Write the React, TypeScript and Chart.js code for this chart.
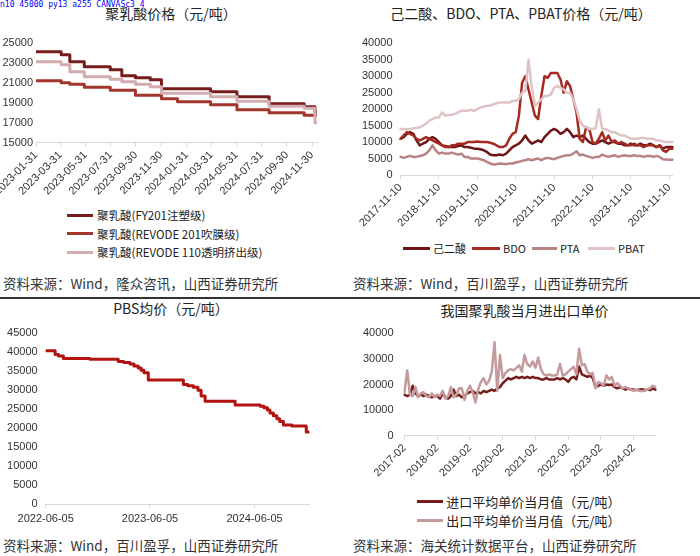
import React, { useEffect, useRef, useState } from "react";
import { Chart, registerables } from "chart.js";
Chart.register(...registerables);

// ---------- helpers ----------
const DAY = 86400000;
const toDay = (s: string) => {
  const [y, m, d] = s.split("-").map(Number);
  return Date.UTC(y, m - 1, d) / DAY;
};
const pad2 = (n: number) => (n < 10 ? "0" + n : "" + n);

// ---------- Panel 1: 聚乳酸价格 ----------
const p1Title = "聚乳酸价格（元/吨）";
const p1Names = ["聚乳酸(FY201注塑级)", "聚乳酸(REVODE 201吹膜级)", "聚乳酸(REVODE 110透明挤出级)"];
const p1Dates = ["2023-01-31", "2023-04-02", "2023-04-23", "2023-05-28", "2023-07-30", "2023-08-27", "2023-09-29", "2023-11-04", "2023-12-01", "2024-01-09", "2024-03-29", "2024-06-01", "2024-08-18", "2024-11-11", "2024-12-07", "2024-12-12"];
const p1FY201 = [24100, 23800, 23100, 22600, 22300, 21700, 21500, 21300, 20400, 20400, 20100, 19600, 18900, 18600, 18100, 18100];
const p1Revode201 = [21200, 21000, 20850, 20550, 20250, 20250, 19750, 19750, 19400, 19100, 18800, 18300, 18000, 17750, 17750, 17750];
const p1Revode110 = [23100, 22800, 22100, 21600, 21350, 21100, 20850, 20600, 19950, 19950, 19600, 19150, 18650, 18450, 17000, 17000];
const p1TickDates = ["2023-01-31", "2023-03-31", "2023-05-31", "2023-07-31", "2023-09-30", "2023-11-30", "2024-01-31", "2024-03-31", "2024-05-31", "2024-07-31", "2024-09-30", "2024-11-30"];
const p1YTicks = [15000, 17000, 19000, 21000, 23000, 25000];
const p1Source = "资料来源：Wind，隆众咨讯，山西证券研究所";

// ---------- Panel 2: 己二酸、BDO、PTA、PBAT ----------
const p2Title = "己二酸、BDO、PTA、PBAT价格（元/吨）";
const p2Names = ["己二酸", "BDO", "PTA", "PBAT"];
const p2Start = { year: 2017, month: 11 };
const p2Adipic = [11000, 11500, 12500, 13000, 12500, 10500, 9000, 9500, 10000, 11000, 11500, 11000, 10000, 9000, 8800, 8500, 8500, 8500, 8800, 9000, 8500, 8500, 8300, 8000, 8000, 7800, 7500, 7000, 6200, 6000, 6000, 6200, 6000, 6500, 7500, 8500, 9000, 9500, 10500, 12000, 10500, 9500, 10000, 10500, 10000, 11500, 12500, 13500, 14000, 13500, 12500, 13000, 14000, 13000, 11500, 12000, 11500, 12000, 11000, 10000, 9500, 9500, 10000, 10500, 10000, 9500, 10000, 10000, 9500, 9500, 9000, 9000, 9500, 9000, 9000, 9500, 9000, 9000, 9500, 9000, 8500, 9000, 8000, 8500, 8500, 8500];
const p2BDO = [11000, 12000, 13000, 12500, 12000, 11000, 10500, 11000, 11500, 11000, 10500, 10000, 9500, 9000, 8500, 8500, 9000, 9000, 9500, 9500, 9500, 10000, 10000, 10000, 10200, 10000, 10000, 10000, 9800, 9500, 9000, 8500, 8500, 9000, 11000, 12500, 13000, 18000, 28000, 30000, 26000, 22000, 18000, 17000, 24000, 30000, 29500, 31000, 31000, 31000, 29000, 25000, 28500, 27000, 23000, 19000, 11000, 10000, 14500, 14000, 10000, 9500, 11000, 13000, 10500, 12000, 10000, 10500, 9500, 10000, 9500, 9000, 9000, 9500, 9000, 9000, 8500, 9000, 9000, 9000, 8500, 9000, 7500, 7000, 8000, 8000];
const p2PTA = [5500, 5200, 5500, 5800, 5500, 5500, 5800, 6000, 6500, 7500, 9000, 7500, 6500, 6800, 6500, 6500, 6800, 6500, 6200, 6500, 5500, 5500, 5000, 5000, 5000, 4800, 4500, 4000, 3500, 3200, 3300, 3500, 3400, 3300, 3500, 3500, 3800, 4000, 4300, 4500, 4800, 4500, 4800, 5000, 4500, 5000, 5200, 5000, 4800, 5200, 5500, 5800, 6000, 6000, 6500, 7200, 6000, 6200, 5800, 5500, 5200, 5500, 5500, 6200, 5800, 5500, 5800, 6000, 5500, 5800, 6000, 5800, 5800, 6000, 5800, 5800, 5500, 5800, 5800, 5500, 5800, 5500, 4800, 4700, 4600, 4600];
const p2PBAT = [14000, 14000, 13800, 14000, 14200, 14300, 14500, 15000, 15500, 16500, 17000, 17500, 17500, 19000, 18000, 18200, 18300, 18500, 19000, 19500, 19500, 19500, 19800, 19500, 20000, 20500, 20800, 21000, 21000, 21500, 21800, 22000, 22000, 22000, 22000, 22500, 22500, 23000, 25000, 25500, 35000, 27000, 21000, 22000, 23000, 24000, 24000, 24500, 26500, 27000, 26500, 26000, 25000, 25000, 23000, 20000, 16500, 15000, 14500, 14000, 14000, 14200, 20000, 14000, 14000, 13500, 13000, 13000, 12500, 12000, 12000, 11500, 11000, 11000, 11000, 11200, 11200, 11000, 11000, 11000, 10500, 10500, 10200, 10000, 10000, 10000];
const p2Labels = p2PBAT.map((_, i) => {
  const k = p2Start.month - 1 + i;
  return `${p2Start.year + Math.floor(k / 12)}-${pad2((k % 12) + 1)}-10`;
});
const p2YTicks = [0, 5000, 10000, 15000, 20000, 25000, 30000, 35000, 40000];
const p2Source = "资料来源：Wind，百川盈孚，山西证券研究所";

// ---------- Panel 3: PBS均价 ----------
const p3Title = "PBS均价（元/吨）";
const p3Dates = ["2022-06-05", "2022-07-08", "2022-07-20", "2022-08-06", "2022-11-07", "2023-02-14", "2023-03-05", "2023-03-27", "2023-04-10", "2023-04-25", "2023-05-05", "2023-05-15", "2023-05-30", "2023-09-30", "2023-10-15", "2023-11-04", "2023-11-20", "2023-12-01", "2023-12-15", "2024-03-29", "2024-06-25", "2024-07-08", "2024-07-20", "2024-07-29", "2024-08-10", "2024-08-22", "2024-09-01", "2024-09-14", "2024-10-14", "2024-12-03", "2024-12-14"];
const p3PBS = [40400, 39400, 39000, 38400, 38200, 37600, 37300, 36900, 36400, 35900, 35300, 34600, 32700, 31500, 31200, 30800, 30000, 28500, 27100, 26100, 25800, 25400, 24800, 24000, 23300, 22500, 21800, 20900, 20600, 19000, 19000];
const p3TickDates = ["2022-06-05", "2023-06-05", "2024-06-05"];
const p3YTicks = [0, 5000, 10000, 15000, 20000, 25000, 30000, 35000, 40000, 45000];
const p3Source = "资料来源：Wind，百川盈孚，山西证券研究所";

// ---------- Panel 4: 进出口单价 ----------
const p4Title = "我国聚乳酸当月进出口单价";
const p4Names = ["进口平均单价当月值（元/吨）", "出口平均单价当月值（元/吨）"];
const p4Start = { year: 2017, month: 2 };
const p4Import = [16000, 15500, 16000, 19500, 16500, 15500, 16000, 15500, 16000, 15500, 15000, 15500, 15500, 14500, 16500, 15000, 14500, 15500, 18000, 15500, 16000, 15000, 15500, 16500, 17000, 17500, 16500, 17000, 16500, 17500, 17000, 17500, 18000, 17500, 18500, 19000, 20500, 21500, 22500, 22000, 22500, 23000, 22500, 23000, 22500, 23000, 22500, 23000, 22500, 22500, 22000, 22000, 22500, 22000, 22000, 22000, 22500, 22000, 22500, 22000, 21000, 22500, 23000, 22000, 27000, 24000, 23500, 23000, 23500, 22500, 19000, 19500, 20000, 19500, 20000, 19800, 20000, 19000, 18500, 19000, 18500, 18000, 18500, 18000, 18000, 17800, 18000, 18200, 17800, 18000, 17800, 18500, 18000];
const p4Export = [17000, 25500, 16000, 15500, 19000, 15000, 16500, 17000, 15500, 15000, 16500, 15000, 16000, 15500, 17500, 14500, 15500, 19000, 15000, 16000, 18500, 18500, 14000, 17500, 19500, 17000, 13000, 18000, 21000, 22500, 20000, 21500, 25000, 36500, 17500, 31500, 22500, 24500, 25500, 26000, 25500, 26500, 27500, 25000, 31500, 28000, 27000, 29000, 26500, 30500, 26000, 24000, 23500, 24000, 23500, 23500, 24000, 28000, 23500, 24000, 25000, 26000, 27000, 24000, 34000, 27500, 28000, 25000, 24000, 24500, 18500, 21000, 20500, 19500, 23500, 22000, 23000, 19500, 20500, 19500, 18500, 19000, 18500, 18000, 17500, 18000, 17500, 17500, 17500, 18000, 18500, 19500, 19000];
const p4Labels = p4Import.map((_, i) => {
  const k = p4Start.month - 1 + i;
  return `${p4Start.year + Math.floor(k / 12)}-${pad2((k % 12) + 1)}`;
});
const p4YTicks = [0, 10000, 20000, 30000, 40000];
const p4Source = "资料来源：海关统计数据平台，山西证券研究所";

// ---------- styling ----------
const TICK_FONT = { family: "'Liberation Sans', Arial, sans-serif", size: 11 };
const TICK_COLOR = "#333";
const AXIS_COLOR = "#d9d9d9";
const CJK = "'Noto Sans CJK SC', 'Noto Sans', sans-serif";

const C = {
  fy201: "#761c1c",
  r201: "#a3352d",
  r110: "#d2adaf",
  adipic: "#6e1616",
  bdo: "#a52b22",
  pta: "#b98283",
  pbat: "#dfc3c5",
  pbs: "#b3130f",
  imp: "#781b1b",
  exp: "#c49a9c",
};

function yAxis(ticksArr: number[], width: number, pad: number) {
  return {
    min: ticksArr[0],
    max: ticksArr[ticksArr.length - 1],
    afterBuildTicks: (s: any) => {
      s.ticks = ticksArr.map((v) => ({ value: v }));
    },
    ticks: {
      autoSkip: false,
      font: { ...TICK_FONT },
      color: TICK_COLOR,
      padding: pad,
      callback: (v: any) => String(v),
    },
    grid: { display: false, drawTicks: false },
    border: { display: false },
    afterFit: (s: any) => {
      s.width = width;
      s.paddingTop = 0;
      s.paddingBottom = 0;
    },
  };
}

function xCommon(height: number, rotate: boolean, pad = 2) {
  return {
    ticks: {
      autoSkip: false,
      maxRotation: rotate ? 45 : 0,
      minRotation: rotate ? 45 : 0,
      font: { ...TICK_FONT },
      color: TICK_COLOR,
      padding: pad,
    },
    grid: { display: true, drawOnChartArea: false, drawTicks: true, tickLength: 4, color: AXIS_COLOR },
    border: { display: true, color: AXIS_COLOR, width: 1 },
    afterFit: (s: any) => {
      s.height = height;
      s.paddingLeft = 0;
      s.paddingRight = 0;
    },
  };
}

function lineDs(label: string, data: any[], color: string, width: number, order: number, stepped = false) {
  return {
    label,
    data,
    borderColor: color,
    backgroundColor: color,
    borderWidth: width,
    borderJoinStyle: "round" as const,
    borderCapStyle: "round" as const,
    pointRadius: 0,
    pointHoverRadius: 0,
    fill: false,
    tension: 0,
    stepped: stepped ? ("before" as const) : false,
    order,
  };
}

const basePlugins = () => ({ legend: { display: false }, tooltip: { enabled: false }, title: { display: false } });

function makeConfig1(): any {
  const d0 = toDay(p1Dates[0]);
  const max = toDay(p1Dates[p1Dates.length - 1]) - d0;
  const pts = (vals: number[]) => p1Dates.map((d, i) => ({ x: toDay(d) - d0, y: vals[i] }));
  const xc = xCommon(59.3, true);
  return {
    type: "line",
    data: {
      datasets: [
        lineDs(p1Names[0], pts(p1FY201), C.fy201, 3, 2, true),
        lineDs(p1Names[1], pts(p1Revode201), C.r201, 3, 1, true),
        lineDs(p1Names[2], pts(p1Revode110), C.r110, 3, 0, true),
      ],
    },
    options: {
      animation: false,
      responsive: false,
      devicePixelRatio: 1,
      layout: { padding: { left: 0, top: 12.7, right: 28, bottom: 0 } },
      plugins: basePlugins(),
      scales: {
        x: {
          type: "linear",
          min: 0,
          max,
          bounds: "data",
          ...xc,
          afterBuildTicks: (s: any) => {
            s.ticks = p1TickDates.map((d) => ({ value: toDay(d) - d0 }));
          },
          ticks: { ...xc.ticks, callback: (_v: any, i: number) => p1TickDates[i] },
        },
        y: yAxis(p1YTicks, 36, 3),
      },
    },
  };
}

function makeConfig2(): any {
  return {
    type: "line",
    data: {
      labels: p2Labels.slice(),
      datasets: [
        lineDs(p2Names[0], p2Adipic.slice(), C.adipic, 2.5, 3),
        lineDs(p2Names[1], p2BDO.slice(), C.bdo, 2.5, 2),
        lineDs(p2Names[2], p2PTA.slice(), C.pta, 2.5, 1),
        lineDs(p2Names[3], p2PBAT.slice(), C.pbat, 2.5, 0),
      ],
    },
    options: {
      animation: false,
      responsive: false,
      devicePixelRatio: 1,
      layout: { padding: { left: 0, top: 13.3, right: 27.5, bottom: 0 } },
      plugins: basePlugins(),
      scales: {
        x: {
          type: "category",
          offset: false,
          ...xCommon(55, true),
          afterBuildTicks: (s: any) => {
            s.ticks = s.ticks.filter((t: any) => t.value % 12 === 0);
          },
        },
        y: yAxis(p2YTicks, 50.5, 8),
      },
    },
  };
}

function makeConfig3(): any {
  const d0 = toDay(p3Dates[0]);
  const max = toDay(p3Dates[p3Dates.length - 1]) - d0;
  const xc = xCommon(30.7, false, 4);
  return {
    type: "line",
    data: {
      datasets: [lineDs("PBS", p3Dates.map((d, i) => ({ x: toDay(d) - d0, y: p3PBS[i] })), C.pbs, 3, 0, true)],
    },
    options: {
      animation: false,
      responsive: false,
      devicePixelRatio: 1,
      layout: { padding: { left: 0, top: 13.3, right: 35.6, bottom: 0 } },
      plugins: basePlugins(),
      scales: {
        x: {
          type: "linear",
          min: 0,
          max,
          bounds: "data",
          ...xc,
          afterBuildTicks: (s: any) => {
            s.ticks = p3TickDates.map((d) => ({ value: toDay(d) - d0 }));
          },
          ticks: { ...xc.ticks, callback: (_v: any, i: number) => p3TickDates[i] },
        },
        y: yAxis(p3YTicks, 45.7, 8),
      },
    },
  };
}

function makeConfig4(): any {
  return {
    type: "line",
    data: {
      labels: p4Labels.slice(),
      datasets: [
        lineDs(p4Names[0], p4Import.slice(), C.imp, 2.5, 1),
        lineDs(p4Names[1], p4Export.slice(), C.exp, 2.5, 0),
      ],
    },
    options: {
      animation: false,
      responsive: false,
      devicePixelRatio: 1,
      layout: { padding: { left: 0, top: 13.3, right: 44.5, bottom: 0 } },
      plugins: basePlugins(),
      scales: {
        x: {
          type: "category",
          offset: false,
          ...xCommon(54.3, true),
          afterBuildTicks: (s: any) => {
            s.ticks = s.ticks.filter((t: any) => t.value % 12 === 0);
          },
        },
        y: yAxis(p4YTicks, 54.5, 11),
      },
    },
  };
}

function ChartBox({ left, top, width, height, make, id }: any) {
  const ref = useRef<HTMLCanvasElement>(null);
  useEffect(() => {
    const chart = new Chart(ref.current as HTMLCanvasElement, make());
    return () => chart.destroy();
  }, []);
  return (
    <canvas
      id={id}
      ref={ref}
      width={width}
      height={height}
      style={{ position: "absolute", left, top, width, height, display: "block" }}
    />
  );
}

function Text({ x, y, text, size, center, color = "#222" }: any) {
  const h = size + 8;
  const style: any = {
    position: "absolute",
    top: y - h / 2,
    height: h,
    lineHeight: h + "px",
    fontFamily: CJK,
    fontSize: size,
    color,
    whiteSpace: "nowrap",
  };
  if (center) {
    style.left = x - 150;
    style.width = 300;
    style.textAlign = "center";
  } else {
    style.left = x;
  }
  return <div style={style}>{text}</div>;
}

function LegendItem({ x, y, w, gap, color, text, size, thick = 3 }: any) {
  return (
    <div
      style={{
        position: "absolute",
        left: x,
        top: y - 10,
        height: 20,
        display: "flex",
        alignItems: "center",
        whiteSpace: "nowrap",
        fontFamily: CJK,
        fontSize: size,
        color: "#222",
      }}
    >
      <span style={{ display: "inline-block", width: w, height: thick, background: color, marginRight: gap }} />
      <span>{text}</span>
    </div>
  );
}

export default function App() {
  const [dbg, setDbg] = useState("");
  useEffect(() => {
    const t = setTimeout(() => {
      try {
        const cv = document.getElementById("c3") as HTMLCanvasElement;
        const ch: any = Chart.getChart(cv);
        const y = ch.scales.y;
        const n = y.ticks.length;
        const py = Math.round(y.getPixelForValue(45000));
        const data = cv.getContext("2d")!.getImageData(5, py - 5, 35, 10).data;
        let a = 0;
        for (let i = 3; i < data.length; i += 4) a = Math.max(a, data[i]);
        const el: any = document.elementFromPoint(20, 320 + py);
        setDbg(`n${n} ${y.ticks[n - 1].label} py${py} a${a} ${el ? el.tagName + (el.id || "") : "-"} ${Chart.instances ? Object.keys(Chart.instances).length : ""}`);
      } catch (e: any) {
        setDbg("err " + e.message);
      }
    }, 50);
    return () => clearTimeout(t);
  }, []);
  return (
    <div style={{ position: "absolute", left: 0, top: 0, width: 700, height: 556, background: "#fff" }}>
      <div style={{ position: "absolute", left: 0, top: 0, fontSize: 8, fontFamily: "DejaVu Sans Mono", color: "#00f" }}>{dbg}</div>
      <Text x={171} y={12.7} text={p1Title} size={14} center />
      <ChartBox left={0} top={30} width={345} height={172} make={makeConfig1} />
      <LegendItem x={67} y={215} w={26} gap={4} color={C.fy201} text={p1Names[0]} size={11.5} />
      <LegendItem x={67} y={233.5} w={26} gap={4} color={C.r201} text={p1Names[1]} size={11.5} />
      <LegendItem x={67} y={252} w={26} gap={4} color={C.r110} text={p1Names[2]} size={11.5} />
      <Text x={3} y={284} text={p1Source} size={13.5} color="#333" />

      <Text x={521} y={12.7} text={p2Title} size={14} center />
      <ChartBox left={350} top={30} width={350} height={200} make={makeConfig2} />
      <LegendItem x={403} y={248} w={27} gap={3} color={C.adipic} text={p2Names[0]} size={11} />
      <LegendItem x={472} y={248} w={28} gap={3} color={C.bdo} text={p2Names[1]} size={11} />
      <LegendItem x={532} y={248} w={25} gap={3} color={C.pta} text={p2Names[2]} size={11} />
      <LegendItem x={588} y={248} w={27} gap={3} color={C.pbat} text={p2Names[3]} size={11} />
      <Text x={353} y={284} text={p2Source} size={13.5} color="#333" />

      <div style={{ position: "absolute", left: 0, top: 296.5, width: 700, height: 2, background: "#333" }} />

      <Text x={171} y={308} text={p3Title} size={14} center />
      <ChartBox id="c3" left={0} top={320} width={345} height={215} make={makeConfig3} />
      <Text x={3} y={546} text={p3Source} size={13.5} color="#333" />

      <Text x={524.5} y={310} text={p4Title} size={14} center />
      <ChartBox left={350} top={320} width={350} height={170} make={makeConfig4} />
      <LegendItem x={416.7} y={501.7} w={26.6} gap={3} color={C.imp} text={p4Names[0]} size={13} />
      <LegendItem x={416.7} y={520.7} w={26.6} gap={3} color={C.exp} text={p4Names[1]} size={13} />
      <Text x={353} y={546} text={p4Source} size={13.5} color="#333" />
    </div>
  );
}
